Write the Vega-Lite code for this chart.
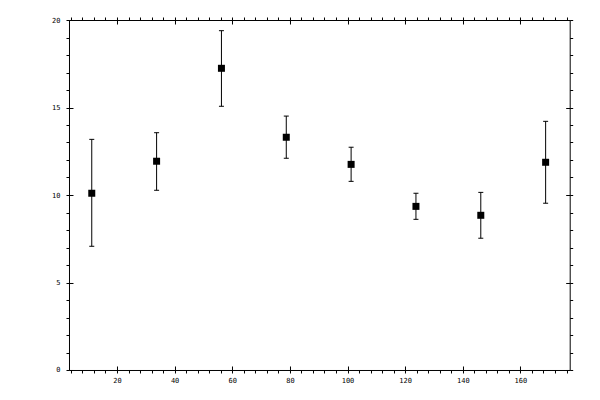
{
  "$schema": "https://vega.github.io/schema/vega-lite/v6.json",
  "width": 500.7,
  "height": 350,
  "autosize": "none",
  "padding": {"left": 69, "top": 20, "right": 30, "bottom": 30},
  "background": "white",
  "data": {
    "values": [
      {"x": 11.25, "y": 10.10, "lo": 7.07, "hi": 13.18},
      {"x": 33.75, "y": 11.93, "lo": 10.27, "hi": 13.56},
      {"x": 56.25, "y": 17.24, "lo": 15.07, "hi": 19.39},
      {"x": 78.75, "y": 13.30, "lo": 12.10, "hi": 14.51},
      {"x": 101.25, "y": 11.75, "lo": 10.78, "hi": 12.73},
      {"x": 123.75, "y": 9.35, "lo": 8.61, "hi": 10.10},
      {"x": 146.25, "y": 8.84, "lo": 7.53, "hi": 10.15},
      {"x": 168.75, "y": 11.87, "lo": 9.53, "hi": 14.21}
    ]
  },
  "resolve": {"axis": {"x": "independent", "y": "independent"}},
  "layer": [
    {
      "mark": {"type": "rule", "color": "black", "strokeWidth": 1},
      "encoding": {
        "x": {"field": "x", "type": "quantitative", "scale": {"domain": [3.35, 177.1], "nice": false, "zero": false},
          "axis": {"orient": "bottom", "title": null, "grid": false, "domain": true, "tickSize": 3, "labelPadding": 4,
            "values": [4,8,12,16,20,24,28,32,36,40,44,48,52,56,60,64,68,72,76,80,84,88,92,96,100,104,108,112,116,120,124,128,132,136,140,144,148,152,156,160,164,168,172,176],
            "labelExpr": "datum.value % 20 === 0 ? datum.label : ''", "labelOverlap": false, "labelFlush": false}},
        "y": {"field": "lo", "type": "quantitative", "scale": {"domain": [0, 20], "nice": false, "zero": true},
          "axis": {"orient": "left", "title": null, "grid": false, "domain": true, "tickSize": 3, "labelPadding": 6,
            "values": [0,1,2,3,4,5,6,7,8,9,10,11,12,13,14,15,16,17,18,19,20],
            "labelExpr": "datum.value % 5 === 0 ? datum.label : ''", "labelOverlap": false, "labelFlush": false}},
        "y2": {"field": "hi"}
      }
    },
    {
      "mark": {"type": "tick", "orient": "horizontal", "size": 5, "thickness": 1, "color": "black", "opacity": 1},
      "encoding": {
        "x": {"field": "x", "type": "quantitative",
          "axis": {"orient": "bottom", "title": null, "grid": false, "domain": false, "labels": false, "tickSize": -4,
            "values": [20,40,60,80,100,120,140,160]}},
        "y": {"field": "lo", "type": "quantitative",
          "axis": {"orient": "left", "title": null, "grid": false, "domain": false, "labels": false, "tickSize": -4,
            "values": [0,5,10,15,20]}}
      }
    },
    {
      "mark": {"type": "tick", "orient": "horizontal", "size": 5, "thickness": 1, "color": "black", "opacity": 1},
      "encoding": {
        "x": {"field": "x", "type": "quantitative",
          "axis": {"orient": "top", "title": null, "grid": false, "domain": true, "labels": false, "tickSize": 3,
            "values": [4,8,12,16,20,24,28,32,36,40,44,48,52,56,60,64,68,72,76,80,84,88,92,96,100,104,108,112,116,120,124,128,132,136,140,144,148,152,156,160,164,168,172,176]}},
        "y": {"field": "hi", "type": "quantitative",
          "axis": {"orient": "right", "title": null, "grid": false, "domain": true, "labels": false, "tickSize": 3,
            "values": [0,1,2,3,4,5,6,7,8,9,10,11,12,13,14,15,16,17,18,19,20]}}
      }
    },
    {
      "mark": {"type": "square", "size": 49, "color": "black", "filled": true, "opacity": 1},
      "encoding": {
        "x": {"field": "x", "type": "quantitative",
          "axis": {"orient": "top", "title": null, "grid": false, "domain": false, "labels": false, "tickSize": -4,
            "values": [20,40,60,80,100,120,140,160]}},
        "y": {"field": "y", "type": "quantitative",
          "axis": {"orient": "right", "title": null, "grid": false, "domain": false, "labels": false, "tickSize": -4,
            "values": [0,5,10,15,20]}}
      }
    }
  ],
  "config": {
    "view": {"stroke": null},
    "axis": {
      "labelFont": "DejaVu Sans Mono",
      "labelFontSize": 7,
      "labelColor": "black",
      "tickColor": "black",
      "domainColor": "black",
      "tickWidth": 1,
      "domainWidth": 1
    }
  }
}
